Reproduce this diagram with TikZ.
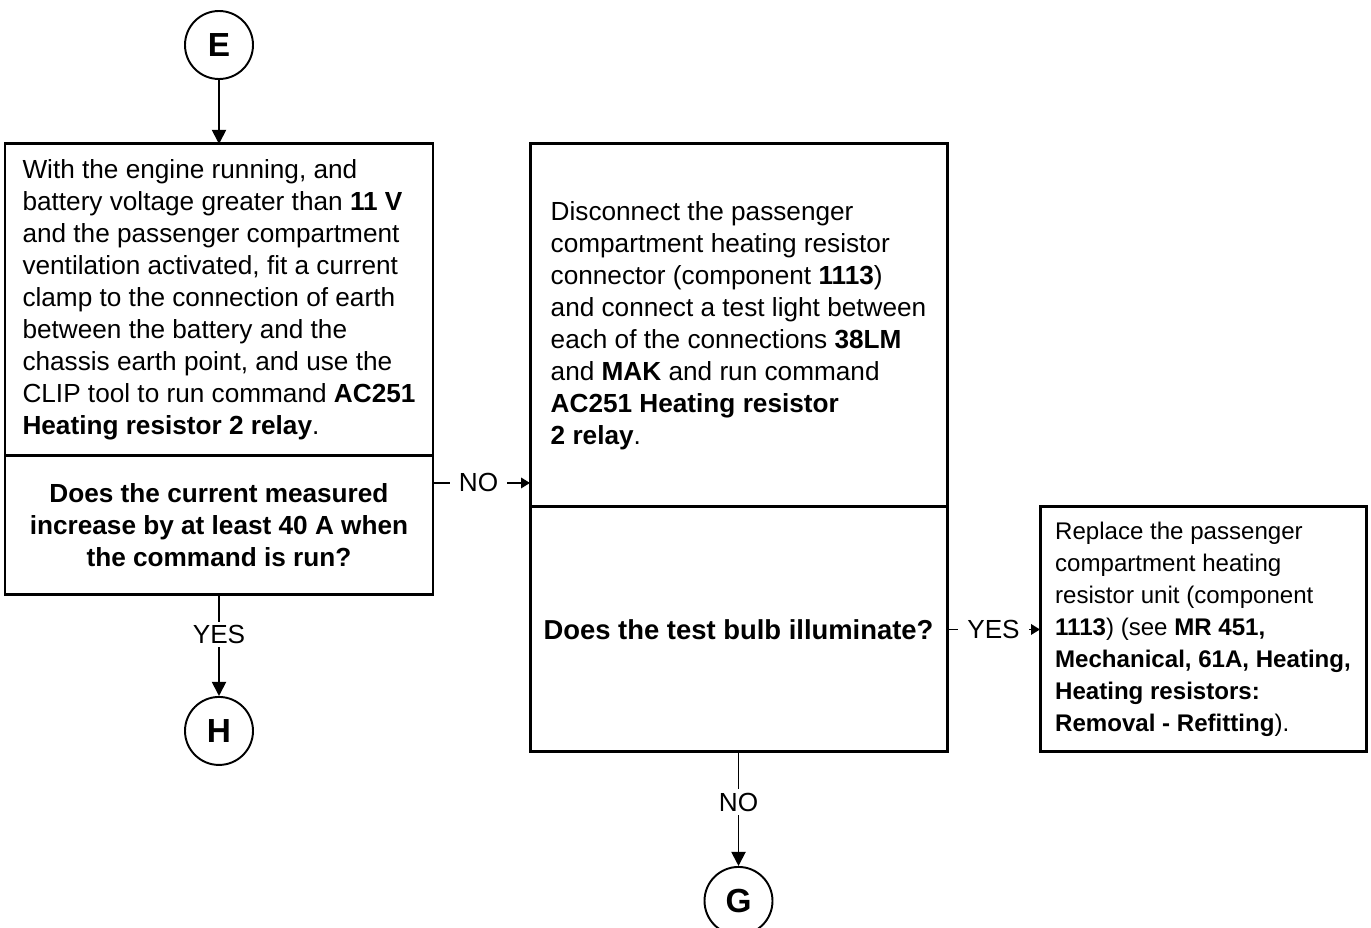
\documentclass[tikz,border=0pt]{standalone}
\usepackage{fontspec}
\setmainfont{Liberation Sans}
\usepackage{tikz}
\usetikzlibrary{positioning, arrows.meta, calc}
\newcommand{\kw}[1]{\textbf{#1}}
\newcommand{\bodysize}{\fontsize{14.9}{18.2}\selectfont}
\newcommand{\notesize}{\fontsize{13.7}{18.2}\selectfont}

\begin{document}
\begin{tikzpicture}[
  node distance=12mm,
  stepbox/.style={draw, line width=1.7pt, outer sep=0pt, inner xsep=0.3cm,
                  align=left, font=\bodysize},
  quest/.style={draw, line width=1.7pt, outer sep=0pt, align=center,
                font=\bodysize\bfseries},
  term/.style={draw, circle, line width=1.1pt, minimum size=1.36cm,
               inner sep=0pt, font=\fontsize{19}{21}\selectfont\bfseries},
  arr/.style={-{Triangle[length=0.28cm, width=0.28cm]}, line width=1.1pt},
  sidearr/.style={-{Triangle[length=0.18cm, width=0.21cm]}, line width=1.1pt},
  lbl/.style={fill=white, font=\bodysize, inner xsep=0.18cm, inner ysep=2pt}
]
\useasboundingbox (0,0) rectangle (27.42,-18.56);

\node[term] (e) at (4.38,-0.90) {E};
\node[stepbox, below=1.28cm of e, minimum width=8.56cm, minimum height=6.24cm] (s1)
  {With the engine running, and\\
   battery voltage greater than \kw{11 V}\\
   and the passenger compartment\\
   ventilation activated, fit a current\\
   clamp to the connection of earth\\
   between the battery and the\\
   chassis earth point, and use the\\
   CLIP tool to run command \kw{AC251}\\
   \kw{Heating resistor 2 relay}.};
\node[quest, below=0pt of s1, minimum width=8.56cm, minimum height=2.78cm] (q1)
  {Does the current measured\\
   increase by at least 40 A when\\
   the command is run?};
\node[term, below=2.02cm of q1] (h) {H};

\node[stepbox, anchor=north west, minimum width=8.34cm,
      minimum height=7.26cm] (s2) at ([xshift=1.94cm]s1.north east)
  {Disconnect the passenger\\
   compartment heating resistor\\
   connector (component \kw{1113})\\
   and connect a test light between\\
   each of the connections \kw{38LM}\\
   and \kw{MAK} and run command\\
   \kw{AC251 Heating resistor}\\
   \kw{2 relay}.};
\node[quest, below=0pt of s2, minimum width=8.34cm, minimum height=4.90cm,
      font=\fontsize{15.6}{18.2}\selectfont\bfseries] (q2)
  {Does the test bulb illuminate?};
\node[term, below=2.28cm of q2] (g) {G};

\node[stepbox, anchor=north west, minimum width=6.52cm, minimum height=4.90cm,
      font=\notesize] (fix) at ([xshift=1.86cm]q2.north east)
  {Replace the passenger\\
   compartment heating\\
   resistor unit (component\\
   \kw{1113}) (see \kw{MR 451,}\\
   \kw{Mechanical, 61A, Heating,}\\
   \kw{Heating resistors:}\\
   \kw{Removal - Refitting}).};

% connectors
\draw[arr] (e) -- (s1);
\draw[arr] (q1) -- node[lbl, pos=0.39] {YES} (h);
\draw[sidearr] ([yshift=-0.54cm]q1.north east) coordinate (no1)
  -- node[lbl, pos=0.47] {NO} (no1 -| s2.west);
\draw[sidearr] (q2) -- node[lbl] {YES} (fix);
\draw[arr] (q2) -- node[lbl, pos=0.44] {NO} (g);
\end{tikzpicture}
\end{document}
